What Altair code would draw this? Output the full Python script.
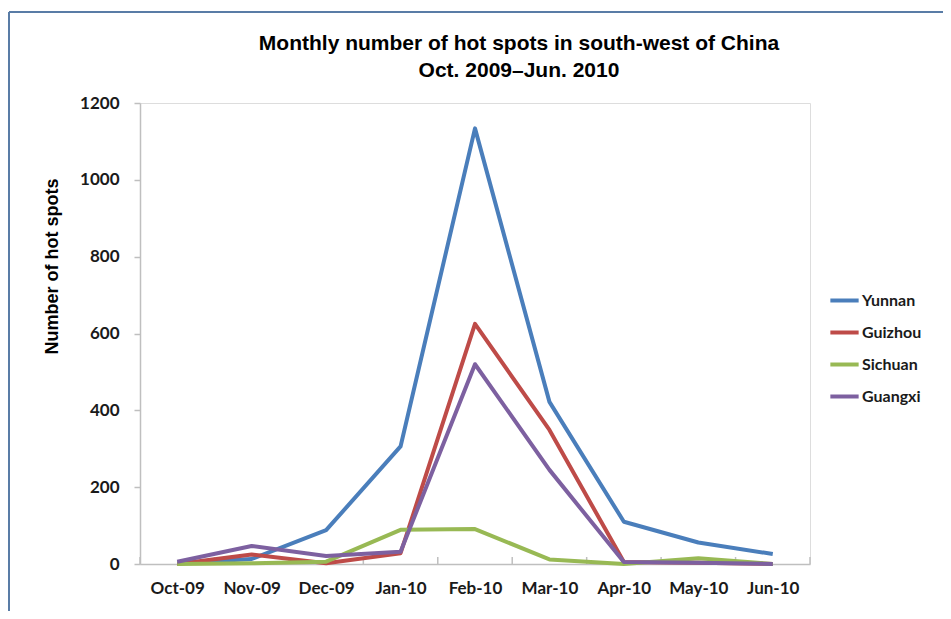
import altair as alt
import pandas as pd

months = ["Oct-09", "Nov-09", "Dec-09", "Jan-10", "Feb-10", "Mar-10", "Apr-10", "May-10", "Jun-10"]
series_names = ["Yunnan", "Guizhou", "Sichuan", "Guangxi"]
yunnan = [2, 13, 88, 306, 1134, 422, 110, 56, 26]
guizhou = [0, 25, 2, 28, 625, 349, 5, 3, 0]
sichuan = [0, 2, 6, 89, 91, 12, 0, 15, 0]
guangxi = [6, 47, 21, 32, 520, 245, 5, 3, 0]
colors = ["#4A7EBB", "#BE4B48", "#98B954", "#7D60A0"]

rows = []
for name, vals in zip(series_names, [yunnan, guizhou, sichuan, guangxi]):
    for i, (m, v) in enumerate(zip(months, vals)):
        rows.append({"series": name, "idx": i, "month": m, "value": v})
df = pd.DataFrame(rows)

label_expr = "[" + ",".join("'%s'" % m for m in months) + "][datum.value]"

x_scale = alt.Scale(domain=[-0.5, 8.5], nice=False, zero=False)
y_scale = alt.Scale(domain=[0, 1200], nice=False)

lines = alt.Chart(df).mark_line(strokeWidth=4, strokeJoin="round").encode(
    x=alt.X("idx:Q", scale=x_scale,
            axis=alt.Axis(values=list(range(9)), labelExpr=label_expr, title=None,
                          ticks=False, grid=False, domainColor="#BFBFBF", domainWidth=1.5,
                          labelFont="Lato", labelFontWeight="bold", labelFontSize=17,
                          labelColor="#1a1a1a", labelPadding=16)),
    y=alt.Y("value:Q", scale=y_scale,
            axis=alt.Axis(values=[0, 200, 400, 600, 800, 1000, 1200], format="d", grid=False,
                          domainColor="#BFBFBF", domainWidth=1.5, tickColor="#BFBFBF",
                          tickSize=6, tickWidth=1.5,
                          labelFont="Lato", labelFontWeight="bold", labelFontSize=17,
                          labelColor="#1a1a1a", labelPadding=15,
                          title="Number of hot spots", titleFont="Liberation Sans",
                          titleFontSize=18, titleFontWeight="bold", titleColor="#000000",
                          titleX=-88, titleY=163, titleAngle=-90, titleAlign="center",
                          titleBaseline="middle")),
    color=alt.Color("series:N", sort=series_names,
                    scale=alt.Scale(domain=series_names, range=colors),
                    legend=alt.Legend(title=None, orient="none", legendX=688, legendY=181,
                                      symbolType="stroke", symbolSize=800,
                                      symbolStrokeWidth=4, labelFont="Lato",
                                      labelFontWeight="bold", labelFontSize=16,
                                      labelColor="#1a1a1a", labelOffset=1, rowPadding=7)),
    order=alt.Order("idx:Q"),
)

# category boundary ticks on the x axis
bounds = pd.DataFrame({"b": [i - 0.5 for i in range(10)]})
xticks = alt.Chart(bounds).mark_rule(color="#BFBFBF", strokeWidth=1.5).encode(
    x=alt.X("b:Q", scale=x_scale),
    y=alt.value(461),
    y2=alt.value(454),
)

frame_top = alt.Chart(bounds).mark_rule(color="#5A7DA6", strokeWidth=1.5).encode(
    x=alt.value(-131), x2=alt.value(820), y=alt.value(-91)
)
frame_left = alt.Chart(bounds).mark_rule(color="#5A7DA6", strokeWidth=1.5).encode(
    x=alt.value(-131), y=alt.value(-91), y2=alt.value(520)
)

chart = alt.layer(frame_top, frame_left, xticks, lines).properties(
    width=670,
    height=461,
    padding={"left": 132, "top": 95, "right": 133, "bottom": 47},
    autosize=alt.AutoSizeParams(type="none"),
    title=alt.TitleParams(
        text=["Monthly number of hot spots in south-west of China", "Oct. 2009\u2013Jun. 2010"],
        font="Liberation Sans Narrow, Liberation Sans",
        fontSize=21, fontWeight="bold", color="#000000",
        anchor="middle", frame="group", dx=44, dy=94, offset=24, lineHeight=27,
    ),
).configure_view(stroke=None).configure(background="white")

chart.save("out.html", embed_options={"renderer": "svg", "actions": False})
